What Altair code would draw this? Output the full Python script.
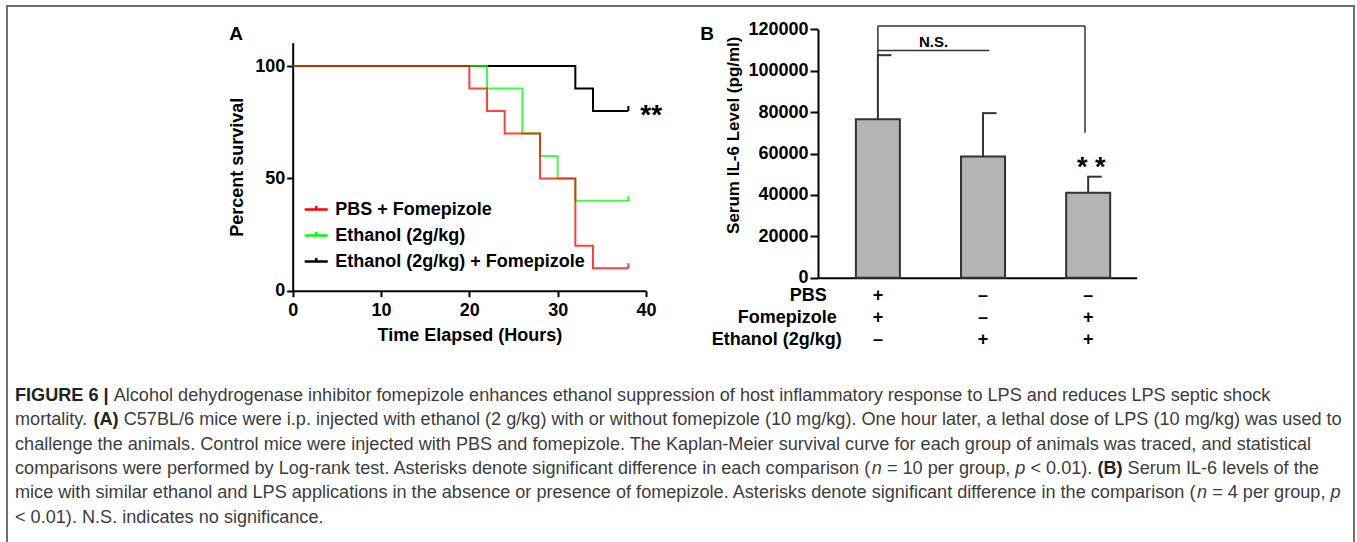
import altair as alt
import pandas as pd

# ---------------- Panel A: Kaplan-Meier survival ----------------
group_names = ["PBS + Fomepizole", "Ethanol (2g/kg)", "Ethanol (2g/kg) + Fomepizole"]
group_colors = ["#ff0000", "#00ff00", "#000000"]
pbs_time = [0, 20, 22, 24, 28, 32, 34, 38]
pbs_surv = [100, 90, 80, 70, 50, 20, 10, 10]
eth_time = [0, 22, 26, 28, 30, 32, 38]
eth_surv = [100, 90, 70, 60, 50, 40, 40]
ethf_time = [0, 32, 34, 38]
ethf_surv = [100, 90, 80, 80]
a_xticks = [0, 10, 20, 30, 40]
a_yticks = [0, 50, 100]

# ---------------- Panel B: serum IL-6 ----------------
b_groups = [1, 2, 3]
b_mean = [76500, 58500, 41000]
b_upper = [107500, 79500, 48800]
b_yticks = [0, 20000, 40000, 60000, 80000, 100000, 120000]
table_rows = ["PBS", "Fomepizole", "Ethanol (2g/kg)"]
table_signs = [["+", "–", "–"], ["+", "–", "+"], ["–", "+", "+"]]
bracket_x1 = [1.0, 2.97, 1.0, 1.0]
bracket_x2 = [2.97, 2.97, 1.0, 2.06]
bracket_y1 = [121600, 121600, 121600, 109700]
bracket_y2 = [121600, 70000, 107500, 109700]

# ---------------- Caption ----------------
caption_lines = [
    [("FIGURE 6 |", "bold"),
     (" Alcohol dehydrogenase inhibitor fomepizole enhances ethanol suppression of host inflammatory response to LPS and reduces LPS septic shock", "regular")],
    [("mortality. ", "regular"), ("(A)", "bold"),
     (" C57BL/6 mice were i.p. injected with ethanol (2 g/kg) with or without fomepizole (10 mg/kg). One hour later, a lethal dose of LPS (10 mg/kg) was used to", "regular")],
    [("challenge the animals. Control mice were injected with PBS and fomepizole. The Kaplan-Meier survival curve for each group of animals was traced, and statistical", "regular")],
    [("comparisons were performed by Log-rank test. Asterisks denote significant difference in each comparison (", "regular"),
     ("n", "italic"), (" = 10 per group, ", "regular"), ("p", "italic"), (" < 0.01). ", "regular"),
     ("(B)", "bold"), (" Serum IL-6 levels of the", "regular")],
    [("mice with similar ethanol and LPS applications in the absence or presence of fomepizole. Asterisks denote significant difference in the comparison (", "regular"),
     ("n", "italic"), (" = 4 per group, ", "regular"), ("p", "italic")],
    [("< 0.01). N.S. indicates no significance.", "regular")],
]

FONT = "Liberation Sans"
CAP_FONT = "Liberation Sans"
CAP_K = 1.0

# Helvetica/Arial advance widths (1/1000 em)
REG = {" ": 278, "!": 278, "(": 333, ")": 333, "*": 389, "+": 584, ",": 278, "-": 333, ".": 278,
       "/": 278, ":": 278, ";": 278, "<": 584, "=": 584, ">": 584, "|": 260,
       "A": 667, "B": 667, "C": 722, "D": 722, "E": 667, "F": 611, "G": 778, "H": 722, "I": 278,
       "J": 500, "K": 667, "L": 556, "M": 833, "N": 722, "O": 778, "P": 667, "Q": 778, "R": 722,
       "S": 667, "T": 611, "U": 722, "V": 667, "W": 944, "X": 667, "Y": 667, "Z": 611,
       "a": 556, "b": 556, "c": 500, "d": 556, "e": 556, "f": 278, "g": 556, "h": 556, "i": 222,
       "j": 222, "k": 500, "l": 222, "m": 833, "n": 556, "o": 556, "p": 556, "q": 556, "r": 333,
       "s": 500, "t": 278, "u": 556, "v": 500, "w": 722, "x": 500, "y": 500, "z": 500}
BOLD = dict(REG)
BOLD.update({"A": 722, "B": 722, "R": 722, "U": 722, "|": 280, "i": 278, "l": 278})


def em(text, style):
    table = BOLD if style == "bold" else REG
    return sum(table.get(c, 556) for c in text) / 1000.0 * CAP_K


cap_x0 = 15
cap_target = 1328
cap_fs = cap_target / sum(em(s, st) for s, st in caption_lines[1])
cap_y0 = 396
cap_dy = 24.3

seg_rows = []
for i, line in enumerate(caption_lines):
    cursor = cap_x0
    for text, style in line:
        lead = len(text) - len(text.lstrip(" "))
        seg_rows.append({"text": text.strip(), "style": style,
                         "px": cursor + em(" " * lead, style) * cap_fs,
                         "py": cap_y0 + i * cap_dy})
        cursor += em(text, style) * cap_fs
segs = pd.DataFrame(seg_rows)

one = pd.DataFrame({"k": [0]})
layers = []

# border of the figure
layers.append(alt.Chart(one).mark_rect(fillOpacity=0, stroke="#707070", strokeWidth=2).encode(
    x=alt.value(7), x2=alt.value(1354), y=alt.value(6), y2=alt.value(620)))

# ---------------- Panel A ----------------
xA = alt.Scale(domain=[0, 40], range=[292.7, 646], nice=False, zero=False)
yA = alt.Scale(domain=[0, 110.4], range=[290.7, 42.7], nice=False)
cA = alt.Scale(domain=group_names, range=group_colors)
axA_x = alt.Axis(orient="bottom", offset=-251.3, values=a_xticks, tickSize=6, labelPadding=5,
                 title="Time Elapsed (Hours)", titlePadding=7, labelFlush=False, grid=False)
axA_y = alt.Axis(orient="left", offset=-292.7, values=a_yticks, tickSize=6, labelPadding=2,
                 title="Percent survival", titleX=-46.7, titleY=166.7, labelFlush=False, grid=False)
legA = alt.Legend(orient="none", legendX=303.2, legendY=196.5, title=None, labelFontSize=18,
                  labelFont=FONT, labelFontWeight="bold", labelColor="black", labelLimit=500,
                  symbolType="M-1,0L1,0M0,0L0,-0.3", symbolSize=529, symbolStrokeWidth=2.5,
                  rowPadding=4, labelOffset=6, padding=0)

XA = lambda f: alt.X(f, scale=xA, axis=axA_x)
YA = lambda f: alt.Y(f, scale=yA, axis=axA_y)

a_layers = []
series = [(group_names[2], ethf_time, ethf_surv, 1.0),
          (group_names[1], eth_time, eth_surv, 0.75),
          (group_names[0], pbs_time, pbs_surv, 0.75)]
for k, (name, t, s, op) in enumerate(series):
    df = pd.DataFrame({"time": t, "surv": s, "group": name})
    first = k == 0
    a_layers.append(alt.Chart(df).mark_line(interpolate="step-after", strokeWidth=2, opacity=op).encode(
        x=XA("time:Q"), y=YA("surv:Q"),
        color=alt.Color("group:N", scale=cA, legend=legA if first else None)))
    a_layers.append(alt.Chart(df.tail(1)).mark_point(shape="M0,0L0,-1", size=100, filled=False,
                                                      strokeWidth=2, opacity=op).encode(
        x=XA("time:Q"), y=YA("surv:Q"),
        color=alt.Color("group:N", scale=cA, legend=None)))

starA = pd.DataFrame({"time": [ethf_time[-1]], "surv": [ethf_surv[-1]], "t": ["**"]})
a_layers.append(alt.Chart(starA).mark_text(font=FONT, fontWeight="bold", fontSize=28, align="left",
                                           baseline="alphabetic", dx=12, dy=13, color="black").encode(
    x=XA("time:Q"), y=YA("surv:Q"), text="t:N"))
layers.append(alt.layer(*a_layers))

# ---------------- Panel B ----------------
xB = alt.Scale(domain=[0.478, 3.414], range=[818, 1136.7], nice=False, zero=False)
yB = alt.Scale(domain=[0, 120000], range=[277.7, 29.3], nice=False)
axB_x = alt.Axis(orient="bottom", offset=-264.3, labels=False, ticks=False, title=None, grid=False)
axB_y = alt.Axis(orient="left", offset=-818, values=b_yticks, format="d", tickSize=8, labelPadding=2,
                 title="Serum IL-6 Level (pg/ml)", titleX=-76, titleY=134.7, titleFontSize=17,
                 labelFlush=False, grid=False)
XB = lambda f: alt.X(f, scale=xB, axis=axB_x)
YB = lambda f: alt.Y(f, scale=yB, axis=axB_y)

bars = pd.DataFrame({"g": b_groups, "mean": b_mean, "upper": b_upper})
brk = pd.DataFrame({"x1": bracket_x1, "x2": bracket_x2, "y1": bracket_y1, "y2": bracket_y2})
ns = pd.DataFrame({"x": [(bracket_x1[3] + bracket_x2[3]) / 2], "y": [bracket_y1[3]], "t": ["N.S."]})
starB = pd.DataFrame({"g": [b_groups[2]], "upper": [b_upper[2]], "t": ["* *"]})

b_layers = [
    alt.Chart(bars).mark_rule(color="#333333", strokeWidth=2).encode(
        x=XB("g:Q"), y=YB("mean:Q"), y2="upper:Q"),
    alt.Chart(bars).mark_rule(color="#333333", strokeWidth=2, xOffset=-1, x2Offset=13.5).encode(
        x=XB("g:Q"), x2="g:Q", y=YB("upper:Q")),
    alt.Chart(bars).mark_bar(orient="vertical", size=44, color="#b4b4b4", stroke="#333333",
                             strokeWidth=2).encode(x=XB("g:Q"), y=YB("mean:Q")),
    alt.Chart(brk).mark_rule(color="#333333", strokeWidth=1.5).encode(
        x=XB("x1:Q"), x2="x2:Q", y=YB("y1:Q"), y2="y2:Q"),
    alt.Chart(ns).mark_text(font=FONT, fontWeight="bold", fontSize=15, baseline="alphabetic",
                            dy=-3.5, color="black").encode(x=XB("x:Q"), y=YB("y:Q"), text="t:N"),
    alt.Chart(starB).mark_text(font=FONT, fontWeight="bold", fontSize=27, baseline="alphabetic",
                               dx=3, dy=-1, color="black").encode(x=XB("g:Q"), y=YB("upper:Q"), text="t:N"),
]

row_y = [296, 317.7, 340]
row_right = [826.7, 836.7, 841.7]
for r, label in enumerate(table_rows):
    lab = pd.DataFrame({"t": [label]})
    b_layers.append(alt.Chart(lab).mark_text(font=FONT, fontWeight="bold", fontSize=18, align="right",
                                             baseline="middle", color="black").encode(
        x=alt.value(row_right[r]), y=alt.value(row_y[r]), text="t:N"))
    sg = pd.DataFrame({"g": b_groups, "t": table_signs[r]})
    b_layers.append(alt.Chart(sg).mark_text(font=FONT, fontWeight="bold", fontSize=18,
                                            baseline="middle", color="black").encode(
        x=XB("g:Q"), y=alt.value(row_y[r]), text="t:N"))
layers.append(alt.layer(*b_layers))

# panel letters
for letter, lx in [("A", 236), ("B", 707)]:
    layers.append(alt.Chart(pd.DataFrame({"t": [letter]})).mark_text(
        font=FONT, fontWeight="bold", fontSize=19, baseline="middle", color="black").encode(
        x=alt.value(lx), y=alt.value(34), text="t:N"))

# caption
styles = {
    "regular": dict(fontWeight="normal", fontStyle="normal", color="#3c3c3c"),
    "bold": dict(fontWeight="bold", fontStyle="normal", color="#222222"),
    "italic": dict(fontWeight="normal", fontStyle="italic", color="#3c3c3c"),
}
for st, props in styles.items():
    d = segs[segs["style"] == st]
    layers.append(alt.Chart(d).mark_text(font=CAP_FONT, fontSize=cap_fs, align="left",
                                         baseline="middle", **props).encode(
        x=alt.X("px:Q", scale=None), y=alt.Y("py:Q", scale=None), text="text:N"))

chart = alt.layer(*layers).resolve_scale(x="independent", y="independent").properties(
    width=1357, height=542, padding=0, autosize=alt.AutoSizeParams(type="none"),
    background="white"
).configure_view(stroke="transparent").configure_axis(
    labelFont=FONT, titleFont=FONT, labelFontWeight="bold", titleFontWeight="bold",
    labelFontSize=18, titleFontSize=18, labelColor="black", titleColor="black",
    domainColor="black", tickColor="black", domainWidth=2, tickWidth=2
)

chart.save("out.html", embed_options={"renderer": "svg", "actions": False})
